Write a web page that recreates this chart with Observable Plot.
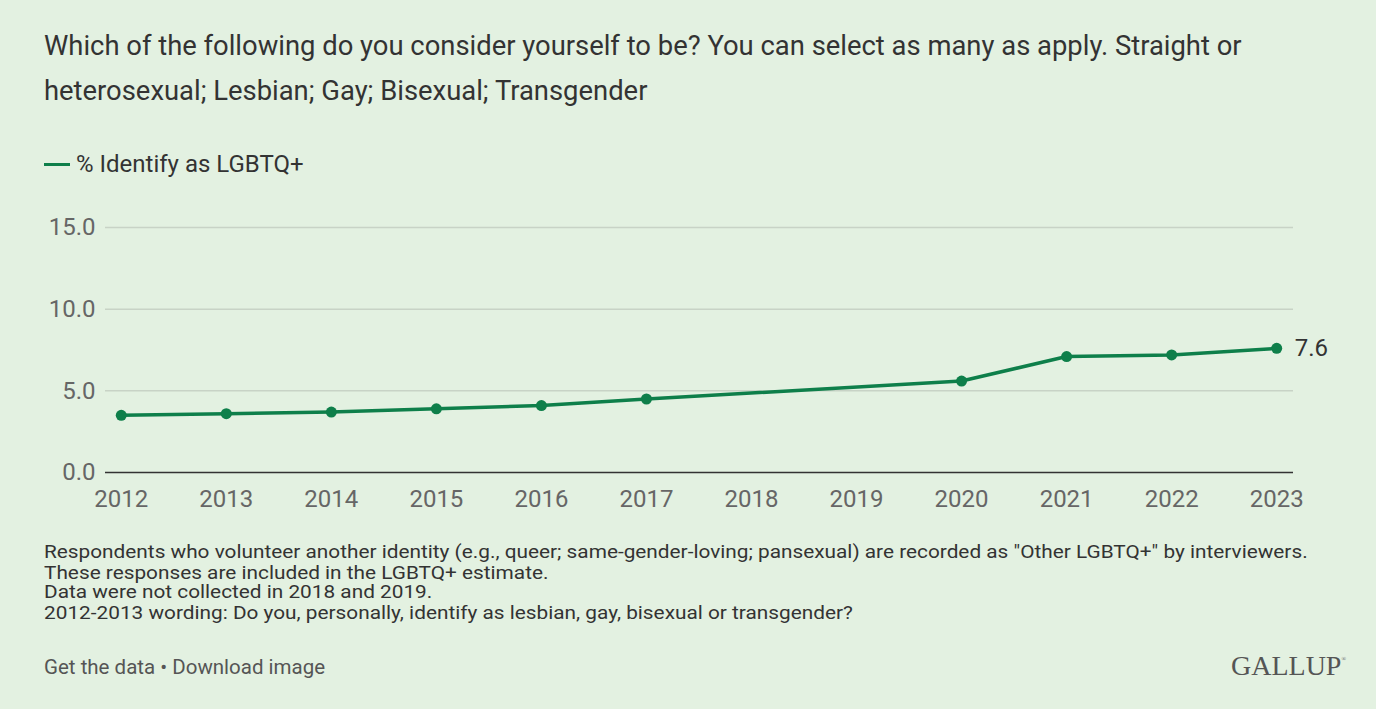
<!DOCTYPE html>
<html><head><meta charset="utf-8">
<script src="https://cdn.jsdelivr.net/npm/d3@7"></script>
<script src="https://cdn.jsdelivr.net/npm/@observablehq/plot@0.6"></script>
<style>
html,body{margin:0;padding:0;background:#e3f1e1;width:1376px;height:709px;overflow:hidden;font-family:Roboto,"Noto Sans",sans-serif;}
.abs{position:absolute;white-space:nowrap;}
#title{left:44px;top:24px;font-size:27.4px;line-height:45px;color:#333;}
#legend{left:44px;top:150px;font-size:24px;color:#333;display:flex;align-items:center;}
#legend .sw{display:inline-block;width:26px;height:3px;background:#0e7f4a;margin-right:6px;}
#chart{left:0;top:190px;}
#notes{left:44px;top:543px;font-size:20.8px;line-height:23.5px;color:#333;transform:scaleY(0.851);transform-origin:0 0;}
#links{left:44px;top:655px;font-size:20.5px;color:#555;}
#logo{left:1231px;top:650px;font-size:28px;color:#555;font-family:"Liberation Serif","DejaVu Serif",serif;}
#logo sup{font-size:6px;vertical-align:top;position:relative;top:6px;}
</style></head>
<body>
<div id="title" class="abs">Which of the following do you consider yourself to be? You can select as many as apply. Straight or<br>heterosexual; Lesbian; Gay; Bisexual; Transgender</div>
<div id="legend" class="abs"><span class="sw"></span><span>% Identify as LGBTQ+</span></div>
<div id="chart" class="abs"></div>
<div id="notes" class="abs">Respondents who volunteer another identity (e.g., queer; same-gender-loving; pansexual) are recorded as "Other LGBTQ+" by interviewers.<br>These responses are included in the LGBTQ+ estimate.<br>Data were not collected in 2018 and 2019.<br>2012-2013 wording: Do you, personally, identify as lesbian, gay, bisexual or transgender?</div>
<div id="links" class="abs">Get the data • Download image</div>
<div id="logo" class="abs">GALLUP<sup>®</sup></div>
<script>
const years = [2012, 2013, 2014, 2015, 2016, 2017, 2020, 2021, 2022, 2023];
const values = [3.5, 3.6, 3.7, 3.9, 4.1, 4.5, 5.6, 7.1, 7.2, 7.6];
const xTicks = [2012, 2013, 2014, 2015, 2016, 2017, 2018, 2019, 2020, 2021, 2022, 2023];
const yTicks = [0, 5, 10, 15];
const lastLabel = "7.6";

const data = years.map((y, i) => ({year: y, value: values[i]}));
const last = data[data.length - 1];
const green = "#0e7f4a";

const plot = Plot.plot({
  width: 1376,
  height: 330,
  marginLeft: 105,
  marginRight: 83,
  marginTop: 37,
  marginBottom: 48,
  style: {background: "transparent", fontFamily: "Roboto, 'Noto Sans', sans-serif", fontSize: "24px", overflow: "visible"},
  x: {domain: [2011.85, 2023.16], label: null},
  y: {domain: [0, 15], label: null},
  marks: [
    Plot.gridY(yTicks.filter(d => d > 0), {stroke: "#c8d3c6", strokeOpacity: 1, strokeWidth: 1.5}),
    Plot.ruleY([0], {stroke: "#333", strokeWidth: 1.3}),
    Plot.axisX({ticks: xTicks, tickFormat: d => String(d), tickSize: 0, tickPadding: 17, fill: "#666", fontSize: 24, label: null}),
    Plot.axisY({ticks: yTicks, tickFormat: d => d.toFixed(1), tickSize: 0, tickPadding: 10, fill: "#666", fontSize: 24, label: null}),
    Plot.line(data, {x: "year", y: "value", stroke: green, strokeWidth: 3.5}),
    Plot.dot(data, {x: "year", y: "value", fill: green, r: 5.5}),
    Plot.text([last], {x: "year", y: "value", text: () => lastLabel, dx: 18, textAnchor: "start", fill: "#333", fontSize: 24})
  ]
});
document.getElementById("chart").appendChild(plot);
</script>
</body></html>
